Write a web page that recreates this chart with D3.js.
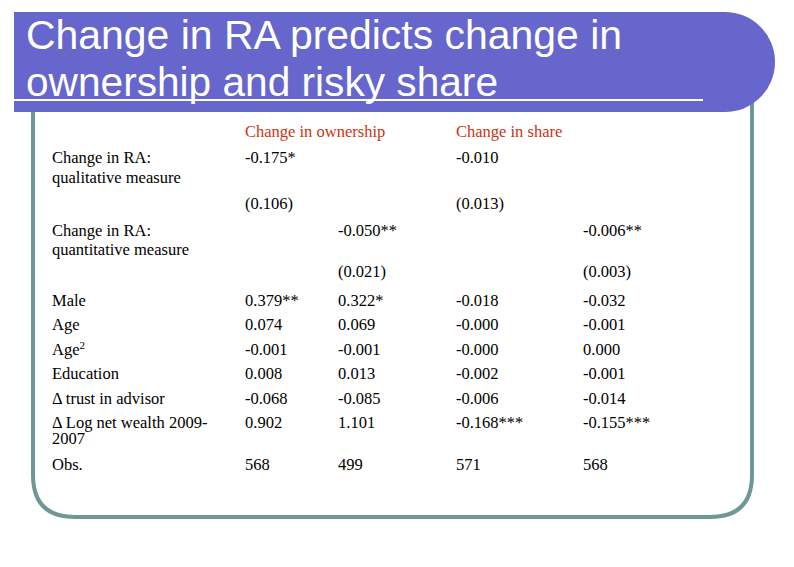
<!DOCTYPE html>
<html><head><meta charset="utf-8">
<script src="https://cdn.jsdelivr.net/npm/d3@7"></script>
<style>body{margin:0;background:#fff}</style></head>
<body><svg id="c" width="794" height="567"></svg>
<script>
const titleLines = ["Change in RA predicts change in", "ownership and risky share"];
const columnHeads = ["Change in ownership", "Change in share"];
const covariates = ["Male", "Age", "Age²", "Education", "Δ trust in advisor", "Δ Log net wealth 2009-|2007"];
const col1 = ["0.379**", "0.074", "-0.001", "0.008", "-0.068", "0.902"];
const col2 = ["0.322*", "0.069", "-0.001", "0.013", "-0.085", "1.101"];
const col3 = ["-0.018", "-0.000", "-0.000", "-0.002", "-0.006", "-0.168***"];
const col4 = ["-0.032", "-0.001", "0.000", "-0.001", "-0.014", "-0.155***"];
const obs = ["568", "499", "571", "568"];
const raCoefs = ["-0.175*", "-0.050**", "-0.010", "-0.006**"];
const raSEs = ["(0.106)", "(0.021)", "(0.013)", "(0.003)"];

const svg = d3.select("#c");
const colX = d3.scaleOrdinal().domain([0,1,2,3]).range([245, 338, 456, 583]);
const rowY = d3.scalePoint().domain(d3.range(covariates.length)).range([306, 428]);
const serif = "Liberation Serif, Times New Roman, serif";

const fr = d3.path();
fr.moveTo(33, 100); fr.lineTo(33, 475); fr.quadraticCurveTo(33, 517, 75, 517);
fr.lineTo(710, 517); fr.quadraticCurveTo(752, 517, 752, 475); fr.lineTo(752, 100);
svg.append("path").attr("d", fr.toString()).attr("fill","none").attr("stroke","#6e9898").attr("stroke-width",4);

const hp = d3.path();
hp.moveTo(14, 12); hp.lineTo(725, 12); hp.arc(725, 62, 50, -Math.PI/2, Math.PI/2); hp.lineTo(14, 112); hp.closePath();
svg.append("path").attr("d", hp.toString()).attr("fill","#6666cc");
svg.append("line").attr("x1",0).attr("x2",703).attr("y1",100).attr("y2",100).attr("stroke","#fff").attr("stroke-width",2);
const tw = [596, 472];
svg.selectAll("text.t").data(titleLines).join("text").attr("class","t")
  .attr("x",26).attr("y",(d,i)=>49+i*47).text(d=>d)
  .attr("textLength",(d,i)=>tw[i]).attr("lengthAdjust","spacingAndGlyphs")
  .attr("fill","#fff").attr("font-family","Liberation Sans, Arial, sans-serif").attr("font-size",41);

const T = (x,y,s,fill="#000") => svg.append("text").attr("x",x).attr("y",y).text(s)
  .attr("font-family",serif).attr("font-size",16.5).attr("fill",fill);

T(colX(0),137,columnHeads[0],"#cc3311");
T(colX(2),137,columnHeads[1],"#cc3311");
T(52,163,"Change in RA:"); T(52,183,"qualitative measure");
T(52,236,"Change in RA:"); T(52,255,"quantitative measure");
const coefY = [163, 236, 163, 236], seY = [209, 277, 209, 277];
raCoefs.forEach((v,i)=>T(colX(i),coefY[i],v));
raSEs.forEach((v,i)=>T(colX(i),seY[i],v));

covariates.forEach((c,i)=>{
  const parts = c.split("|");
  if (c === "Age²") {
    const t = T(52,rowY(i),"Age");
    t.append("tspan").attr("dy",-6).attr("font-size",11).text("2");
  } else {
    parts.forEach((p,k)=>T(52,rowY(i)+k*16,p));
  }
});
[col1,col2,col3,col4].forEach((col,j)=>col.forEach((v,i)=>T(colX(j),rowY(i),v)));
T(52,470,"Obs.");
obs.forEach((v,j)=>T(colX(j),470,v));
</script></body></html>
